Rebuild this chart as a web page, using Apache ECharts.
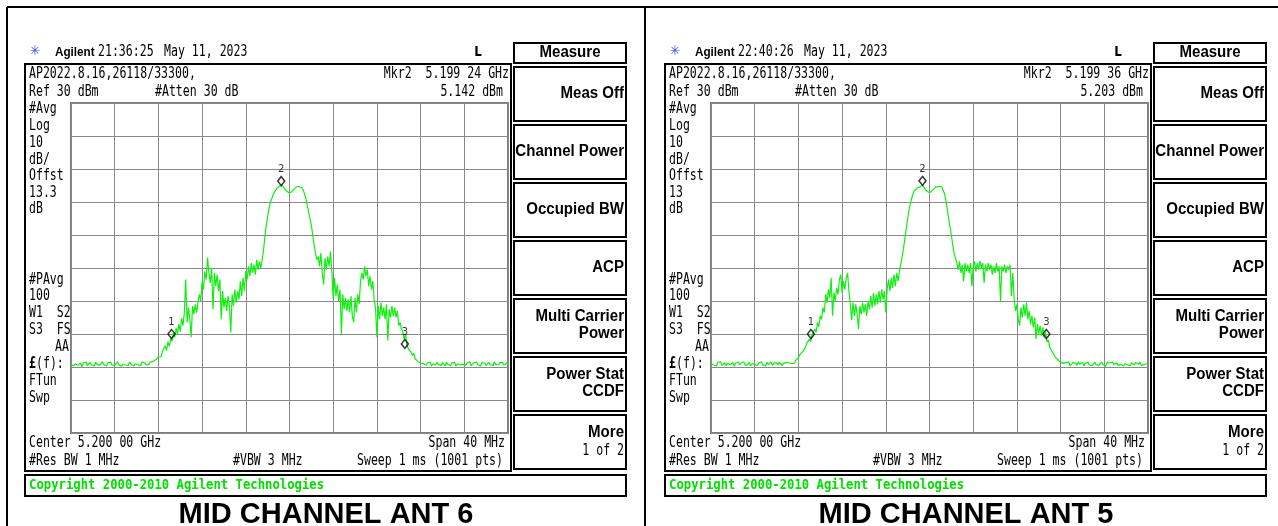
<!DOCTYPE html>
<html>
<head>
<meta charset="utf-8">
<script src="https://cdn.jsdelivr.net/npm/echarts@6/dist/echarts.min.js"></script>
<style>
  html, body { margin: 0; padding: 0; background: #fff; }
  #chart { width: 1278px; height: 526px; }
</style>
</head>
<body>
<div id="chart"></div>
<script>
  // sweep: -20 MHz .. +20 MHz around 5.200 GHz, one reading every 0.125 MHz (321 readings)
  const sweepStart = -20
  const sweepStep = 0.125

  // ANT 6 trace levels (dBm)
  const ant6Levels = [
    // noise floor -20 .. -12.75 MHz
    -49.2, -48.6, -49.7, -49.0, -48.4, -49.5, -49.1, -48.8,
    -49.9, -48.7, -49.3, -48.5, -49.6, -49.0, -48.6, -49.4,
    -48.9, -49.7, -48.5, -49.2, -48.8, -49.5, -49.0, -48.4,
    -49.3, -48.9, -49.6, -48.7, -49.1, -48.5, -49.4, -48.8,
    -49.6, -49.0, -48.4, -49.3, -48.7, -49.8, -49.1, -48.6,
    -49.4, -48.9, -49.5, -48.5, -49.2, -48.8, -49.7, -49.0,
    -48.6, -49.3, -48.9, -49.6, -48.5, -49.1, -48.7, -49.4,
    -48.8, -49.2, -48.5,
    // -12.625 .. 12.125 MHz
    -48.8, -48.3, -48.9, -47.8, -48.1, -47.0,
    -46.5, -46.9, -45.2, -45.8, -43.6, -45.0, -42.3, -43.8,
    -41.5, -42.2, -39.8, -41.0, -38.2, -40.1, -37.0, -39.3,
    -35.2, -37.5, -33.5, -23.5, -36.5, -32.0, -35.5, -41.0,
    -31.5, -34.0, -31.0, -33.5, -30.5, -28.0, -30.0, -24.0,
    -26.5, -21.0, -23.5, -16.8, -21.5, -24.5, -20.0, -32.5,
    -21.5, -25.5, -22.0, -27.0, -23.5, -35.5, -27.0, -32.0,
    -29.0, -33.0, -28.5, -31.5, -39.5, -28.0, -31.5, -26.5,
    -30.5, -27.0, -29.5, -24.0, -28.5, -23.0, -27.0, -21.0,
    -23.5, -19.5, -22.5, -18.5, -21.5, -19.0, -22.0, -17.5,
    -20.5, -18.0, -20.0, -17.5, -14.5, -10.5, -7.0, -4.5,
    -2.0, 0.0, 1.0, 2.2, 3.0, 3.6, 4.2, 4.6,
    4.9, 5.1, 4.9, 4.3, 3.7, 3.2, 2.9, 2.7,
    2.9, 3.2, 3.7, 4.2, 4.6, 4.8, 4.7, 4.5,
    4.3, 3.6, 2.5, 1.0, -1.0, -3.0, -5.0, -7.0,
    -10.0, -13.0, -15.5, -17.5, -16.5, -19.5, -15.5, -21.5,
    -25.0, -17.0, -20.5, -16.5, -19.5, -15.0, -21.0, -29.5,
    -23.0, -28.5, -25.0, -30.0, -26.5, -40.0, -28.0, -32.5,
    -29.0, -33.0, -29.5, -33.5, -28.5, -34.5, -36.5, -29.0,
    -33.5, -28.0, -31.0, -24.0, -21.5, -23.5, -19.5, -22.5,
    -20.5, -25.5, -22.5, -26.5, -24.0, -29.5, -32.0, -41.0,
    -31.5, -35.5, -30.5, -34.5, -32.0, -35.5, -31.0, -42.0,
    -32.5, -35.0, -31.5, -34.5, -32.0, -35.0, -33.0, -37.5,
    -36.5, -38.5, -39.5, -41.5, -40.0, -43.5, -44.5, -44.0,
    -45.5, -46.5, -45.8, -47.5, -47.2, -48.3, -47.8, -48.8,
    -48.4,
    // noise floor 12.25 .. 20 MHz
    -49.0, -48.6, -49.5, -48.8, -49.3, -48.5, -49.7,
    -49.0, -48.7, -49.4, -48.5, -49.2, -48.9, -49.6, -48.6,
    -49.1, -49.7, -48.5, -49.3, -48.9, -49.5, -48.7, -49.2,
    -48.6, -49.8, -49.0, -48.5, -49.4, -48.9, -49.2, -48.7,
    -49.5, -48.8, -49.3, -48.4, -49.6, -49.0, -48.7, -49.3,
    -48.5, -49.4, -48.9, -49.7, -48.6, -49.1, -48.8, -49.5,
    -49.0, -48.6, -49.3, -48.8, -49.6, -48.5, -49.2, -48.9,
    -49.4, -48.7, -49.1, -48.6, -49.5, -49.0, -48.8, -49.2,
  ]

  // ANT 5 trace levels (dBm)
  const ant5Levels = [
    // noise floor -20 .. -12.75 MHz
    -49.0, -48.5, -49.4, -48.8, -49.7, -48.6, -49.2, -48.4,
    -49.5, -49.0, -48.7, -49.6, -48.9, -48.5, -49.3, -49.0,
    -48.6, -49.8, -48.8, -49.2, -48.5, -49.4, -48.7, -49.1,
    -48.4, -49.5, -48.9, -49.3, -48.6, -49.7, -49.0, -48.5,
    -49.2, -48.8, -49.6, -48.7, -49.1, -48.4, -49.4, -48.9,
    -49.7, -48.6, -49.3, -49.0, -48.5, -49.5, -48.8, -49.2,
    -48.7, -49.4, -48.5, -49.1, -49.6, -48.9, -49.3, -48.6,
    -49.0, -48.7, -49.3,
    // -12.625 .. 12.125 MHz
    -49.0, -48.4, -48.9, -48.0, -47.6, -47.2,
    -46.3, -46.6, -45.4, -44.8, -44.2, -43.0, -43.6, -41.5,
    -42.3, -40.2, -40.8, -38.5, -39.5, -36.5, -37.8, -34.5,
    -35.5, -32.0, -33.5, -28.0, -30.5, -26.5, -29.0, -23.0,
    -34.5, -27.5, -30.0, -26.0, -28.0, -23.5, -22.0, -27.5,
    -24.0, -26.5, -23.0, -21.5, -27.0, -31.0, -35.8, -30.5,
    -34.5, -31.0, -34.0, -38.5, -31.5, -34.0, -30.5, -33.5,
    -31.0, -34.5, -30.0, -32.5, -28.5, -32.0, -27.5, -31.5,
    -28.0, -31.0, -27.0, -30.5, -26.5, -29.5, -27.0, -33.5,
    -26.5, -23.5, -27.0, -23.0, -26.0, -22.0, -25.5, -21.5,
    -24.0, -21.0, -20.5, -16.5, -14.0, -11.0, -8.0, -5.0,
    -2.5, -0.3, 1.2, 2.5, 3.4, 4.0, 4.3, 4.5,
    4.6, 4.9, 5.1, 4.5, 3.8, 3.3, 3.0, 2.8,
    3.0, 3.4, 3.9, 4.3, 4.6, 4.8, 4.7, 5.0,
    4.6, 4.0, 2.5, 0.5, -2.0, -5.0, -7.5, -10.0,
    -13.0, -15.5, -17.0, -18.5, -20.5, -18.0, -21.5, -19.0,
    -24.0, -18.5, -21.0, -19.0, -21.5, -18.5, -25.5, -20.0,
    -18.0, -21.0, -18.5, -20.5, -17.8, -20.0, -18.5, -24.5,
    -19.0, -21.0, -18.5, -20.5, -19.0, -22.0, -19.5, -21.5,
    -18.5, -21.0, -19.5, -30.0, -19.5, -21.0, -19.0, -21.5,
    -19.5, -20.5, -19.0, -28.5, -21.5, -29.5, -33.0, -31.0,
    -35.5, -37.5, -32.0, -35.0, -31.0, -34.5, -30.5, -35.5,
    -33.0, -37.0, -34.5, -38.0, -35.0, -41.5, -37.0, -40.0,
    -37.5, -40.5, -38.0, -41.0, -39.5, -42.5, -41.8, -44.0,
    -43.5, -45.5, -46.2, -47.0, -46.6, -47.8, -48.0, -48.6,
    -48.2,
    // noise floor 12.25 .. 20 MHz
    -48.9, -49.4, -48.6, -49.1, -48.5, -49.6, -49.0,
    -48.7, -49.3, -48.8, -49.5, -48.4, -49.2, -49.0, -48.6,
    -49.7, -48.9, -49.1, -48.5, -49.4, -48.8, -49.6, -49.0,
    -48.6, -49.3, -48.7, -49.5, -49.0, -48.5, -49.2, -48.9,
    -49.8, -48.6, -49.1, -48.8, -49.4, -48.5, -49.3, -49.0,
    -48.7, -49.5, -48.9, -49.2, -48.6, -49.7, -49.0, -48.5,
    -49.3, -48.8, -49.6, -48.7, -49.1, -49.4, -48.6, -49.0,
    -49.2, -48.5, -49.5, -48.9, -49.3, -48.7, -49.0, -49.2,
  ]

  // markers 1, 2, 3 (MHz from center, dBm)
  const markerNames = ['1', '2', '3']
  const ant6MarkerFreqs = [-10.8, -0.76, 10.56]
  const ant6MarkerLevels = [-40.0, 5.142, -43.0]
  const ant5MarkerFreqs = [-10.85, -0.64, 10.7]
  const ant5MarkerLevels = [-40.0, 5.203, -40.0]

  const panels = [
    { dx: 0, time: '21:36:25', mkr: 'Mkr2  5.199 24 GHz', level: '5.142 dBm', offst: '13.3', title: 'MID CHANNEL ANT 6' },
    { dx: 640, time: '22:40:26', mkr: 'Mkr2  5.199 36 GHz', level: '5.203 dBm', offst: '13', title: 'MID CHANNEL ANT 5' },
  ]

  const softkeys = [
    ['Meas Off'],
    ['Channel Power'],
    ['Occupied BW'],
    ['ACP'],
    ['Multi Carrier', 'Power'],
    ['Power Stat', 'CCDF'],
  ]

  const sweepFreqs = ant6Levels.map((_, i) => sweepStart + i * sweepStep)

  const MONO = '15px "DejaVu Sans Mono"'
  const KEY = 'bold 16px "Liberation Sans"'

  function txt(x, y, text, opt = {}) {
    return {
      type: 'text',
      x,
      y,
      scaleX: opt.scaleX || 0.77,
      silent: true,
      style: {
        text,
        font: opt.font || MONO,
        fill: opt.fill || '#000',
        textAlign: opt.align || 'left',
        textVerticalAlign: 'middle',
      },
    }
  }

  function box(x, y, w, h) {
    return {
      type: 'rect',
      silent: true,
      shape: { x, y, width: w, height: h },
      style: { fill: 'none', stroke: '#000', lineWidth: 2 },
    }
  }

  function line(x1, y1, x2, y2) {
    return {
      type: 'line',
      silent: true,
      shape: { x1, y1, x2, y2 },
      style: { stroke: '#000', lineWidth: 2 },
    }
  }

  function panelGraphics(p) {
    const d = p.dx
    const els = []
    // header line
    els.push(txt(35 + d, 52, '✳', { font: '13px "DejaVu Sans"', fill: '#3a4cff', align: 'center', scaleX: 1 }))
    els.push(txt(55 + d, 52, 'Agilent', { font: 'bold 13px "Liberation Sans"', scaleX: 0.9 }))
    els.push(txt(98 + d, 52, p.time))
    els.push(txt(164 + d, 52, 'May 11, 2023'))
    els.push(txt(478 + d, 52, 'L', { font: 'bold 14px "DejaVu Sans"', align: 'center', scaleX: 0.85 }))

    // display frame and annotations
    els.push(box(25 + d, 64, 486, 407))
    els.push(txt(29 + d, 74, 'AP2022.8.16,26118/33300,'))
    els.push(txt(509 + d, 74, p.mkr, { align: 'right' }))
    els.push(txt(29 + d, 92, 'Ref 30 dBm'))
    els.push(txt(155 + d, 92, '#Atten 30 dB'))
    els.push(txt(503 + d, 92, p.level, { align: 'right' }))

    const leftCol = [
      ['#Avg', 109], ['Log', 126], ['10', 143], ['dB/', 160], ['Offst', 176], [p.offst, 193], ['dB', 209],
      ['#PAvg', 280], ['100', 296], ['W1  S2', 313], ['S3  FS', 330], ['FTun', 381], ['Swp', 398],
    ]
    leftCol.forEach(([t, y]) => els.push(txt(29 + d, y, t)))
    els.push(txt(69 + d, 347, 'AA', { align: 'right' }))
    els.push(txt(29 + d, 364, '£', { font: 'bold 15px "DejaVu Sans Mono"' }))
    els.push(txt(36 + d, 364, '(f):'))

    els.push(txt(29 + d, 443, 'Center 5.200 00 GHz'))
    els.push(txt(505 + d, 443, 'Span 40 MHz', { align: 'right' }))
    els.push(txt(29 + d, 461, '#Res BW 1 MHz'))
    els.push(txt(233 + d, 461, '#VBW 3 MHz'))
    els.push(txt(503 + d, 461, 'Sweep 1 ms (1001 pts)', { align: 'right' }))

    // softkeys
    els.push(box(514 + d, 43, 112, 20))
    els.push(txt(570 + d, 53, 'Measure', { font: KEY, align: 'center', scaleX: 0.94 }))
    softkeys.forEach((lines, i) => {
      const top = 67 + i * 58
      els.push(box(514 + d, top, 112, 54))
      const mid = top + 27
      if (lines.length === 1) {
        els.push(txt(624 + d, mid, lines[0], { font: KEY, align: 'right', scaleX: 0.94 }))
      } else {
        els.push(txt(624 + d, mid - 9, lines[0], { font: KEY, align: 'right', scaleX: 0.94 }))
        els.push(txt(624 + d, mid + 8, lines[1], { font: KEY, align: 'right', scaleX: 0.94 }))
      }
    })
    els.push(box(514 + d, 415, 112, 54))
    els.push(txt(624 + d, 433, 'More', { font: KEY, align: 'right', scaleX: 0.94 }))
    els.push(txt(624 + d, 451, '1 of 2', { align: 'right' }))

    // copyright bar
    els.push(box(25 + d, 475, 601, 21))
    els.push(txt(29 + d, 485, 'Copyright 2000-2010 Agilent Technologies', {
      font: 'bold 14px "DejaVu Sans Mono"', fill: '#00e000', scaleX: 0.875,
    }))

    // caption
    els.push(txt(326 + d, 515, p.title, { font: 'bold 29px "Liberation Sans"', align: 'center', scaleX: 1 }))
    return els
  }

  const outer = [line(7, 7, 1278, 7), line(7, 7, 7, 526), line(645, 7, 645, 526)]

  const gridBase = { top: 103, width: 437, height: 330, show: true, backgroundColor: '#fff', borderColor: '#7d7d7d', borderWidth: 2 }

  function xAx(i) {
    return {
      gridIndex: i, type: 'value', min: -20, max: 20, interval: 4,
      axisLine: { show: false }, axisTick: { show: false }, axisLabel: { show: false },
      splitLine: { show: true, lineStyle: { color: '#8a8a8a', width: 1 } },
    }
  }
  function yAx(i) {
    return {
      gridIndex: i, type: 'value', min: -70, max: 30, interval: 10,
      axisLine: { show: false }, axisTick: { show: false }, axisLabel: { show: false },
      splitLine: { show: true, lineStyle: { color: '#8a8a8a', width: 1 } },
    }
  }

  function trace(i, levels) {
    return {
      type: 'line', xAxisIndex: i, yAxisIndex: i,
      data: levels.map((v, k) => [sweepFreqs[k], v]),
      showSymbol: false, symbol: 'none', silent: true, clip: true,
      lineStyle: { color: '#10f010', width: 1.2 },
      z: 3,
    }
  }

  function markers(i, freqs, levels) {
    return {
      type: 'scatter', xAxisIndex: i, yAxisIndex: i, silent: true, z: 5,
      symbol: 'diamond', symbolSize: [7, 9],
      itemStyle: { color: 'rgba(0,0,0,0)', borderColor: '#000', borderWidth: 1.5 },
      label: { show: true, position: 'top', distance: 1, formatter: '{b}', color: '#000', fontSize: 10, fontFamily: 'DejaVu Sans' },
      data: freqs.map((f, k) => ({
        name: markerNames[k],
        value: [f, levels[k]],
        symbolOffset: k === 1 ? [0, -4] : [0, 0],
      })),
    }
  }

  const chart = echarts.init(document.getElementById('chart'), null, { renderer: 'canvas' })
  chart.setOption({
    animation: false,
    backgroundColor: '#fff',
    grid: [
      Object.assign({ left: 71 }, gridBase),
      Object.assign({ left: 711 }, gridBase),
    ],
    xAxis: [xAx(0), xAx(1)],
    yAxis: [yAx(0), yAx(1)],
    series: [
      trace(0, ant6Levels),
      trace(1, ant5Levels),
      markers(0, ant6MarkerFreqs, ant6MarkerLevels),
      markers(1, ant5MarkerFreqs, ant5MarkerLevels),
    ],
    graphic: { elements: outer.concat(panelGraphics(panels[0]), panelGraphics(panels[1])) },
  })
</script>
</body>
</html>
